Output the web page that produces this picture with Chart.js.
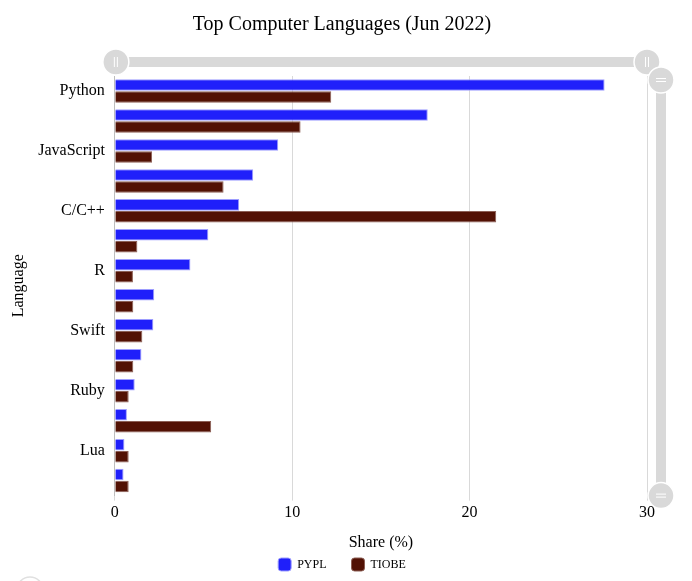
<!DOCTYPE html>
<html>
<head>
<meta charset="utf-8">
<script src="https://cdn.jsdelivr.net/npm/chart.js@4"></script>
<style>
html,body{margin:0;padding:0;background:#fff;}
#wrap{width:692px;height:581px;position:relative;}
</style>
</head>
<body>
<div id="wrap"><canvas id="c" width="692" height="581"></canvas></div>
<script>
const languages = ["Python","Java","JavaScript","C#","C/C++","PHP","R","TypeScript","Swift","Objective-C","Ruby","VBA","Lua","Scala"];
const pypl  = [27.61,17.64,9.21,7.80,7.01,5.27,4.26,2.22,2.17,1.50,1.12,0.68,0.54,0.49];
const tiobe = [12.20,10.47,2.10,6.13,21.50,1.27,1.02,1.04,1.55,1.04,0.78,5.43,0.78,0.78];
const xTicks = [0,10,20,30];

const FONT = "'Liberation Serif', 'Times New Roman', serif";

const scrollbars = {
  id: 'scrollbars',
  afterDraw(chart) {
    const ctx = chart.ctx;
    const a = chart.chartArea;
    const grey = '#d9d9d9';
    ctx.save();
    const hy = 62;
    ctx.fillStyle = grey;
    ctx.fillRect(a.left + 2, hy - 5, a.right - a.left - 2, 10);
    const vx = 661;
    ctx.fillRect(vx - 5, a.top + 4, 10, a.bottom - a.top - 4);
    function handle(x, y, vertical) {
      ctx.beginPath();
      ctx.arc(x, y, 13, 0, Math.PI * 2);
      ctx.fillStyle = grey;
      ctx.fill();
      ctx.lineWidth = 1.5;
      ctx.strokeStyle = '#ffffff';
      ctx.stroke();
      ctx.beginPath();
      ctx.lineWidth = 1;
      if (vertical) {
        ctx.moveTo(x - 5, y - 1.5); ctx.lineTo(x + 5, y - 1.5);
        ctx.moveTo(x - 5, y + 1.5); ctx.lineTo(x + 5, y + 1.5);
      } else {
        ctx.moveTo(x - 1.5, y - 5); ctx.lineTo(x - 1.5, y + 5);
        ctx.moveTo(x + 1.5, y - 5); ctx.lineTo(x + 1.5, y + 5);
      }
      ctx.stroke();
    }
    handle(a.left + 1, hy, false);
    handle(a.right, hy, false);
    handle(vx, a.top + 4, true);
    handle(vx, a.bottom, true);
    ctx.beginPath();
    ctx.arc(30, 590, 13, 0, Math.PI * 2);
    ctx.strokeStyle = '#e0e0e0';
    ctx.lineWidth = 1.5;
    ctx.stroke();
    ctx.restore();
  }
};

new Chart(document.getElementById('c'), {
  type: 'bar',
  data: {
    labels: languages,
    datasets: [
      { label: 'PYPL', data: pypl, backgroundColor: '#1f1ffa', borderColor: '#9d9dff', borderWidth: 1,
        categoryPercentage: 0.8, barPercentage: 0.96 },
      { label: 'TIOBE', data: tiobe, backgroundColor: '#521104', borderColor: '#8c5f55', borderWidth: 1,
        categoryPercentage: 0.8, barPercentage: 0.96 }
    ]
  },
  options: {
    indexAxis: 'y',
    responsive: false,
    animation: false,
    devicePixelRatio: 1,
    layout: { padding: { left: 10, right: 18, top: 0, bottom: 0 } },
    plugins: {
      title: {
        display: true,
        text: 'Top Computer Languages (Jun 2022)',
        color: '#000',
        font: { family: FONT, size: 20, weight: 'normal' },
        padding: { top: 13, bottom: 39 }
      },
      legend: {
        position: 'bottom',
        labels: {
          color: '#000',
          font: { family: FONT, size: 12 },
          boxWidth: 13,
          boxHeight: 13,
          useBorderRadius: true,
          borderRadius: 3,
          padding: 25
        }
      },
      tooltip: { enabled: false }
    },
    scales: {
      x: {
        min: 0, max: 30,
        afterBuildTicks(axis) { axis.ticks = xTicks.map(v => ({ value: v })); },
        grid: { color: '#d9d9d9', drawTicks: true, tickLength: 5, lineWidth: 1 },
        border: { display: false },
        ticks: { color: '#000', font: { family: FONT, size: 16 }, padding: 3 },
        title: { display: true, text: 'Share (%)', color: '#000', font: { family: FONT, size: 16 }, padding: { top: 7, bottom: -19 } }
      },
      y: {
        grid: { display: false, drawTicks: false },
        border: { display: true, color: '#bdbdbd' },
        ticks: {
          color: '#000', font: { family: FONT, size: 16 }, autoSkip: false, padding: 10,
          callback(v, i) { return i % 2 === 0 ? languages[i] : ''; }
        },
        title: { display: true, text: 'Language', color: '#000', font: { family: FONT, size: 16 }, padding: { top: -1, bottom: 0 } }
      },
      y2: {
        type: 'linear',
        position: 'right',
        display: true,
        grid: { display: false, drawTicks: false },
        border: { display: false },
        ticks: { display: false },
        afterFit(s) { s.width = 27; }
      }
    }
  },
  plugins: [scrollbars]
});
</script>
</body>
</html>
